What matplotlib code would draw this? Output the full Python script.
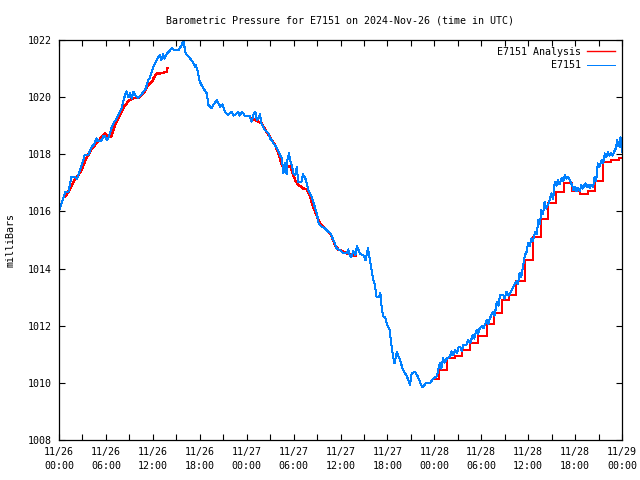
import matplotlib
matplotlib.use("Agg")
import numpy as np
import matplotlib.pyplot as plt

# hours since 2024-11-26 00:00 UTC
obs_hours = [0.0, 0.4, 0.8, 1.2, 1.6, 2.0, 2.3, 2.7, 3.0, 3.3, 3.75, 4.2, 4.5, 4.8, 5.1, 5.5, 5.7, 5.9, 6.1, 6.3,
             6.7, 7.0, 7.4, 7.7, 8.0, 8.2, 8.4, 8.6, 8.9, 9.1, 9.3, 9.5, 9.8, 10.1, 10.4, 10.8, 11.1, 11.4, 11.6, 12.1,
             12.5, 12.9, 13.1, 13.3, 13.5, 13.8, 14.1, 14.4, 14.8, 15.3, 15.7, 15.9, 16.2, 16.75, 17.2, 17.4, 17.5, 17.8, 18.0, 18.45,
             18.9, 19.1, 19.5, 19.8, 20.2, 20.6, 20.9, 21.2, 21.65, 22.1, 22.3, 22.5, 22.9, 23.1, 23.4, 23.8, 24.4, 24.6, 24.9, 25.1,
             25.3, 25.5, 25.7, 25.9, 26.3, 26.8, 27.0, 27.2, 27.4, 27.6, 28.0, 28.3, 28.5, 28.7, 28.9, 29.1, 29.2, 29.4, 29.6, 29.8,
             30.0, 30.2, 30.4, 30.6, 31.0, 31.2, 31.5, 31.9, 32.3, 32.7, 33.0, 33.2, 33.6, 34.0, 34.4, 34.7, 35.1, 35.5, 35.9, 36.3,
             36.6, 36.8, 37.0, 37.2, 37.4, 37.6, 37.9, 38.1, 38.5, 38.9, 39.2, 39.5, 39.8, 40.0, 40.2, 40.4, 40.6, 40.9, 41.1, 41.3,
             41.5, 41.7, 41.9, 42.3, 42.5, 42.7, 42.9, 43.2, 43.6, 44.0, 44.5, 44.9, 45.1, 45.5, 45.9, 46.2, 46.5, 46.9, 47.4, 47.9,
             48.3, 48.5, 48.7, 48.9, 49.1, 49.3, 49.6, 50.0, 50.2, 50.4, 50.7, 50.9, 51.1, 51.3, 51.5, 51.7, 52.1, 52.3, 52.6, 52.9,
             53.1, 53.4, 53.6, 53.8, 54.1, 54.3, 54.7, 54.9, 55.1, 55.5, 55.7, 56.0, 56.2, 56.4, 56.8, 57.0, 57.2, 57.5, 57.7, 58.1,
             58.5, 58.7, 58.9, 59.1, 59.4, 59.6, 59.8, 60.0, 60.2, 60.4, 60.6, 60.9, 61.1, 61.3, 61.5, 61.7, 61.9, 62.1, 62.3, 62.6,
             62.8, 63.0, 63.2, 63.4, 63.6, 63.8, 64.0, 64.3, 64.5, 64.7, 64.9, 65.1, 65.3, 65.6, 65.8, 66.0, 66.2, 66.4, 66.6, 66.8,
             67.0, 67.3, 67.5, 67.7, 67.9, 68.1, 68.3, 68.5, 68.7, 68.9, 69.1, 69.4, 69.6, 69.8, 70.0, 70.2, 70.4, 70.6, 70.8, 71.0,
             71.2, 71.4, 71.5, 71.7, 71.8, 72.0]
obs_mb = [1016.0, 1016.35, 1016.69, 1016.69, 1017.22, 1017.22, 1017.15, 1017.45, 1017.7, 1017.98, 1017.98, 1018.27, 1018.35, 1018.56, 1018.45, 1018.5, 1018.65, 1018.62, 1018.5, 1018.56,
          1018.91, 1019.1, 1019.26, 1019.45, 1019.61, 1019.85, 1020.02, 1020.2, 1020.0, 1020.15, 1019.95, 1020.19, 1020.05, 1019.96, 1020.05, 1020.19, 1020.3, 1020.6, 1020.66, 1021.07,
          1021.3, 1021.48, 1021.3, 1021.5, 1021.35, 1021.53, 1021.6, 1021.71, 1021.65, 1021.65, 1021.83, 1021.98, 1021.53, 1021.36, 1021.19, 1021.05, 1021.13, 1020.83, 1020.54, 1020.31,
          1020.13, 1019.73, 1019.61, 1019.75, 1019.9, 1019.67, 1019.75, 1019.49, 1019.38, 1019.49, 1019.35, 1019.38, 1019.49, 1019.35, 1019.49, 1019.34, 1019.34, 1019.14, 1019.4, 1019.49,
          1019.2, 1019.26, 1019.4, 1019.08, 1018.85, 1018.73, 1018.55, 1018.5, 1018.4, 1018.33, 1018.15, 1017.95, 1017.86, 1017.33, 1017.7, 1017.3, 1017.8, 1018.03, 1017.75, 1017.57,
          1017.3, 1017.28, 1017.55, 1017.04, 1017.04, 1017.3, 1017.16, 1016.75, 1016.52, 1016.17, 1015.9, 1015.58, 1015.47, 1015.41, 1015.3, 1015.23, 1015.0, 1014.71, 1014.65, 1014.55,
          1014.53, 1014.53, 1014.67, 1014.45, 1014.41, 1014.6, 1014.48, 1014.79, 1014.51, 1014.48, 1014.3, 1014.71, 1014.24, 1013.89, 1013.6, 1013.43, 1013.02, 1013.0, 1013.14, 1012.55,
          1012.32, 1012.32, 1012.08, 1011.85, 1011.33, 1010.98, 1010.68, 1011.09, 1010.8, 1010.45, 1010.22, 1009.93, 1010.33, 1010.39, 1010.22, 1010.0, 1009.84, 1009.98, 1009.98, 1010.16,
          1010.22, 1010.45, 1010.68, 1010.5, 1010.86, 1010.7, 1010.86, 1010.91, 1011.1, 1010.98, 1011.15, 1011.03, 1011.25, 1011.27, 1011.1, 1011.33, 1011.33, 1011.5, 1011.38, 1011.68,
          1011.55, 1011.85, 1011.7, 1011.91, 1012.0, 1011.91, 1012.2, 1012.05, 1012.26, 1012.49, 1012.35, 1012.84, 1012.7, 1013.08, 1013.08, 1012.95, 1013.19, 1013.05, 1013.14, 1013.37,
          1013.55, 1013.45, 1013.84, 1013.7, 1014.18, 1014.48, 1014.59, 1014.89, 1014.8, 1015.06, 1014.95, 1015.29, 1015.2, 1015.7, 1015.55, 1016.05, 1015.9, 1016.34, 1016.1, 1016.28,
          1016.45, 1016.63, 1016.45, 1017.04, 1016.9, 1017.1, 1016.95, 1017.16, 1017.05, 1017.28, 1017.15, 1017.22, 1017.1, 1016.93, 1016.75, 1016.87, 1016.7, 1016.81, 1016.7, 1016.93,
          1016.8, 1016.98, 1016.85, 1016.93, 1016.82, 1016.93, 1016.85, 1017.22, 1017.05, 1017.68, 1017.55, 1017.8, 1017.7, 1018.03, 1017.9, 1018.09, 1017.95, 1018.03, 1017.95, 1018.09,
          1018.2, 1018.5, 1018.3, 1018.27, 1018.6, 1018.09]

# analysis, first day (smooth part)
ana1_hours = [0.8, 1.2, 2.0, 2.9, 3.3, 3.75, 4.2, 4.8, 5.5, 5.9, 6.3, 6.7, 7.2, 7.6, 8.2, 8.9, 9.5, 10.1, 10.8, 11.4,
              11.9, 12.1, 12.5, 12.9, 13.3, 13.8, 13.85]
ana1_mb = [1016.52, 1016.69, 1017.1, 1017.45, 1017.74, 1017.98, 1018.21, 1018.38, 1018.62, 1018.73, 1018.62, 1018.62, 1019.03, 1019.26, 1019.61, 1019.87, 1019.96, 1019.96, 1020.13, 1020.43,
           1020.54, 1020.66, 1020.83, 1020.83, 1020.85, 1020.9, 1021.0]
ana2_hours = [24.4, 24.6, 25.9, 26.8, 27.6, 28.0, 28.5, 28.7, 29.6, 29.8, 30.2, 30.6, 31.2, 31.7, 32.1, 32.5, 32.9, 33.4, 33.8, 34.2,
              34.7, 35.3, 35.7, 36.4, 36.8, 37.9]
ana2_mb = [1019.26, 1019.26, 1019.08, 1018.68, 1018.33, 1018.09, 1017.63, 1017.57, 1017.57, 1017.39, 1017.1, 1016.93, 1016.81, 1016.78, 1016.52, 1016.17, 1015.88, 1015.58, 1015.47, 1015.35,
           1015.23, 1014.83, 1014.67, 1014.59, 1014.53, 1014.44]
# analysis, hourly steps
ana3_hours = [48.1, 48.6, 49.6, 50.6, 51.5, 52.6, 53.6, 54.7, 55.6, 56.6, 57.6, 58.5, 59.6, 60.6, 61.6, 62.6, 63.6, 64.6, 65.6, 66.6,
              67.7, 68.5, 69.6, 70.6, 71.6, 72.0]
ana3_mb = [1010.12, 1010.45, 1010.86, 1010.94, 1011.15, 1011.38, 1011.64, 1012.05, 1012.43, 1012.9, 1013.08, 1013.57, 1014.3, 1015.1, 1015.72, 1016.28, 1016.67, 1016.98, 1016.72, 1016.61,
           1016.73, 1017.08, 1017.74, 1017.8, 1017.88, 1017.88]

tick_hours = list(range(0, 73, 6))
tick_labels = ["11/26\n00:00", "11/26\n06:00", "11/26\n12:00", "11/26\n18:00",
               "11/27\n00:00", "11/27\n06:00", "11/27\n12:00", "11/27\n18:00",
               "11/28\n00:00", "11/28\n06:00", "11/28\n12:00", "11/28\n18:00",
               "11/29\n00:00"]

plt.rcParams['font.family'] = ['DejaVu Sans Mono']
plt.rcParams['font.size'] = 7.2

fig = plt.figure(figsize=(6.4, 4.8), dpi=100)
ax = fig.add_axes([59/640, 40/480, 563/640, 400/480])

red = "#ff0000"
blue = "#0080ff"
ax.plot(ana1_hours, ana1_mb, color=red, lw=1.0, label="E7151 Analysis", antialiased=False)
ax.plot(ana2_hours, ana2_mb, color=red, lw=1.0, antialiased=False)
ax.plot(ana3_hours, ana3_mb, color=red, lw=1.3, drawstyle="steps-post", antialiased=False)
ax.plot(obs_hours, obs_mb, color=blue, lw=0.72, label="E7151", antialiased=False)

ax.set_xlim(0, 72)
ax.set_ylim(1008, 1022)
ax.set_xticks(tick_hours)
ax.set_xticklabels(tick_labels, linespacing=1.5)
ax.set_xticks(range(3, 72, 6), minor=True)
ax.set_yticks(range(1008, 1023, 2))
ax.tick_params(which="both", direction="in", top=True, right=True, length=4, width=0.8, pad=5)
for s in ax.spines.values():
    s.set_linewidth(0.9)

ax.set_ylabel("milliBars", labelpad=9)
ax.set_title("Barometric Pressure for E7151 on 2024-Nov-26 (time in UTC)", fontsize=7.2, pad=12)
ax.legend(loc="upper right", frameon=False, markerfirst=False, handlelength=2.8,
          handletextpad=0.6, labelspacing=0.35, borderaxespad=0.3)

fig.savefig("out.png", dpi=100)
